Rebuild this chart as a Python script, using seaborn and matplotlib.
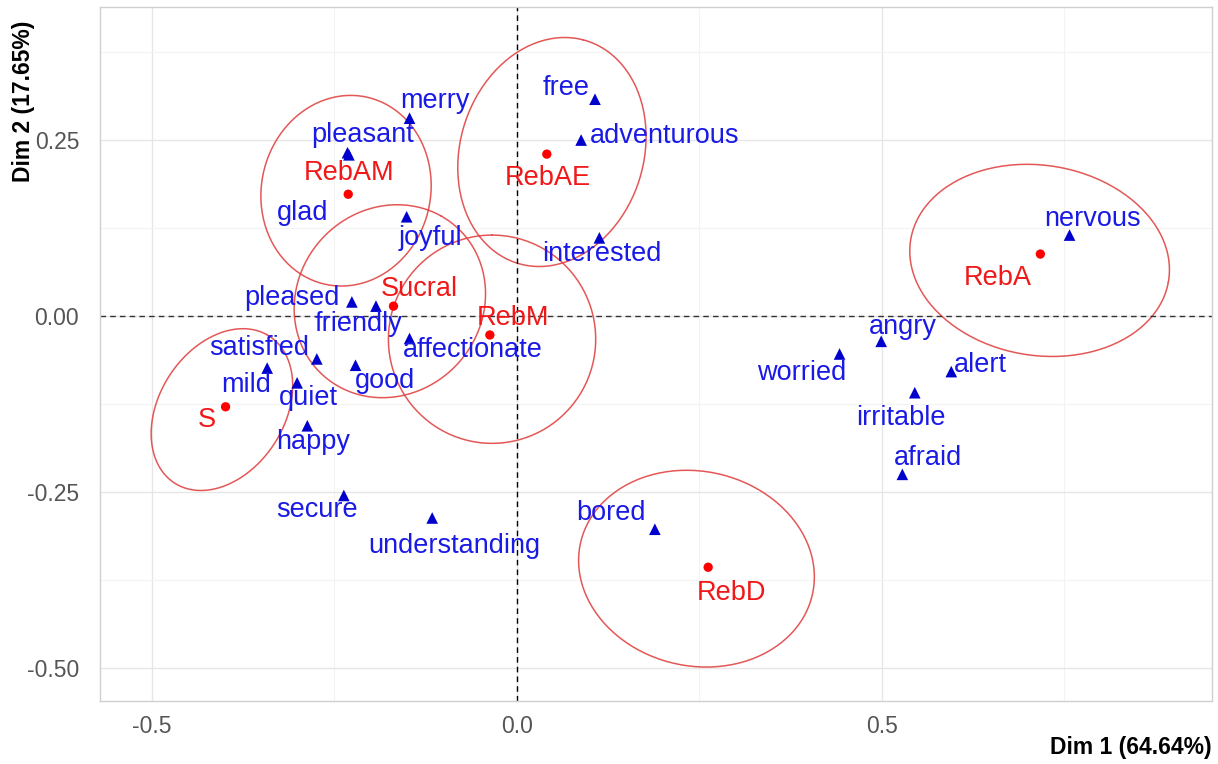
import numpy as np
import pandas as pd
import matplotlib
matplotlib.use("Agg")
import matplotlib.pyplot as plt
import seaborn as sns

# Column (sample) coordinates
samples = ["RebAM", "RebAE", "Sucral", "RebM", "S", "RebA", "RebD"]
samp_x = [-0.231, 0.041, -0.169, -0.037, -0.399, 0.717, 0.262]
samp_y = [0.173, 0.230, 0.014, -0.027, -0.129, 0.088, -0.357]
samp_lx = [-0.230, 0.042, -0.133, -0.005, -0.425, 0.659, 0.294]
samp_ly = [0.203, 0.196, 0.038, -0.003, -0.148, 0.054, -0.393]

# Confidence ellipses around each sample
ell_cx = [-0.234, 0.048, -0.174, -0.034, -0.404, 0.716, 0.246]
ell_cy = [0.178, 0.233, 0.021, -0.033, -0.133, 0.079, -0.359]
ell_a = [0.136, 0.165, 0.140, 0.148, 0.123, 0.179, 0.163]
ell_b = [0.116, 0.126, 0.128, 0.142, 0.0865, 0.135, 0.138]
ell_ang = [80, 75, 60, 90, 60, -10, -15]

# Row (emotion word) coordinates
words = ["merry", "pleasant", "glad", "free", "adventurous", "joyful", "interested",
         "pleased", "friendly", "affectionate", "satisfied", "good", "mild", "quiet",
         "happy", "secure", "understanding", "bored", "nervous", "angry", "worried",
         "alert", "irritable", "afraid"]
word_x = [-0.147, -0.232, -0.230, 0.107, 0.088, -0.151, 0.113,
          -0.226, -0.193, -0.147, -0.274, -0.221, -0.342, -0.301,
          -0.287, -0.237, -0.116, 0.189, 0.757, 0.499, 0.442,
          0.595, 0.545, 0.528]
word_y = [0.281, 0.232, 0.229, 0.308, 0.250, 0.141, 0.111,
          0.020, 0.014, -0.032, -0.061, -0.070, -0.074, -0.095,
          -0.156, -0.255, -0.287, -0.303, 0.115, -0.036, -0.054,
          -0.079, -0.109, -0.225]
word_lx = [-0.112, -0.212, -0.293, 0.068, 0.203, -0.119, 0.116,
           -0.308, -0.217, -0.061, -0.353, -0.180, -0.371, -0.286,
           -0.279, -0.274, -0.086, 0.129, 0.789, 0.529, 0.390,
           0.635, 0.526, 0.563]
word_ly = [0.305, 0.257, 0.146, 0.324, 0.256, 0.111, 0.088,
           0.026, -0.011, -0.048, -0.046, -0.092, -0.098, -0.116,
           -0.179, -0.276, -0.327, -0.280, 0.138, -0.016, -0.081,
           -0.070, -0.145, -0.202]

x_ticks = [-0.5, 0.0, 0.5]
x_tick_labels = ["-0.5", "0.0", "0.5"]
y_ticks = [-0.50, -0.25, 0.00, 0.25]
y_tick_labels = ["-0.50", "-0.25", "0.00", "0.25"]

sns.set_theme(style="white")
plt.rcParams["font.family"] = ["Liberation Sans", "DejaVu Sans"]

fig = plt.figure(figsize=(12.18, 7.64), dpi=100)
ax = fig.add_axes([0.0821, 0.0825, 0.9129, 0.9083])
ax.set_xlim(-0.571, 0.952)
ax.set_ylim(-0.547, 0.439)

# grid
ax.set_xticks(x_ticks)
ax.set_xticklabels(x_tick_labels)
ax.set_yticks(y_ticks)
ax.set_yticklabels(y_tick_labels)
ax.set_xticks([-0.25, 0.25, 0.75], minor=True)
ax.set_yticks([-0.375, -0.125, 0.125, 0.375], minor=True)
ax.grid(True, which="major", color="#E6E6E6", linewidth=1.0)
ax.grid(True, which="minor", color="#F3F3F3", linewidth=0.8)
ax.set_axisbelow(True)
for sp in ax.spines.values():
    sp.set_visible(True)
    sp.set_color("#D0D0D0")
    sp.set_linewidth(1.0)
ax.tick_params(axis="x", which="major", length=4, color="#BBBBBB",
               labelsize=16.5, labelcolor="#555555", pad=6)
ax.tick_params(axis="y", which="major", length=4, color="#BBBBBB",
               labelsize=16.5, labelcolor="#555555", pad=11)
ax.tick_params(axis="both", which="minor", length=0)

# ellipses
t = np.linspace(0, 2 * np.pi, 200)
rows = []
for name, cx, cy, a, b, ang in zip(samples, ell_cx, ell_cy, ell_a, ell_b, ell_ang):
    th = np.deg2rad(ang)
    ex = cx + a * np.cos(t) * np.cos(th) - b * np.sin(t) * np.sin(th)
    ey = cy + a * np.cos(t) * np.sin(th) + b * np.sin(t) * np.cos(th)
    rows.append(pd.DataFrame({"x": ex, "y": ey, "grp": name, "order": np.arange(len(t))}))
ell_df = pd.concat(rows, ignore_index=True)
sns.lineplot(data=ell_df, x="x", y="y", units="grp", estimator=None, sort=False,
             color="#E03A3A", alpha=0.85, linewidth=1.1, ax=ax, legend=False)

# reference lines
ax.axvline(0, color="black", linestyle=(0, (4, 3)), linewidth=1.0)
ax.axhline(0, color="#333333", linestyle=(0, (4, 3)), linewidth=1.0)

# points
word_df = pd.DataFrame({"x": word_x, "y": word_y, "label": words})
samp_df = pd.DataFrame({"x": samp_x, "y": samp_y, "label": samples})
sns.scatterplot(data=word_df, x="x", y="y", marker="^", s=70, color="#0000CC",
                edgecolor="none", ax=ax, legend=False, zorder=4)
sns.scatterplot(data=samp_df, x="x", y="y", marker="o", s=45, color="red",
                edgecolor="none", ax=ax, legend=False, zorder=5)

# labels
for lab, lx, ly in zip(words, word_lx, word_ly):
    ax.text(lx, ly, lab, color="#1a1aE6", fontsize=19.5, ha="center", va="center", zorder=6)
for lab, lx, ly in zip(samples, samp_lx, samp_ly):
    ax.text(lx, ly, lab, color="#F01818", fontsize=19.5, ha="center", va="center", zorder=6)

ax.set_xlabel("")
ax.set_ylabel("")
fig.text(0.0821 + 0.9129, 0.022, "Dim 1 (64.64%)", ha="right", va="center",
         fontsize=16.5, fontweight="bold", color="black")
fig.text(0.019, 0.868, "Dim 2 (17.65%)", ha="center", va="center", rotation=90,
         fontsize=16.5, fontweight="bold", color="black")

fig.savefig("out.png", dpi=100)
